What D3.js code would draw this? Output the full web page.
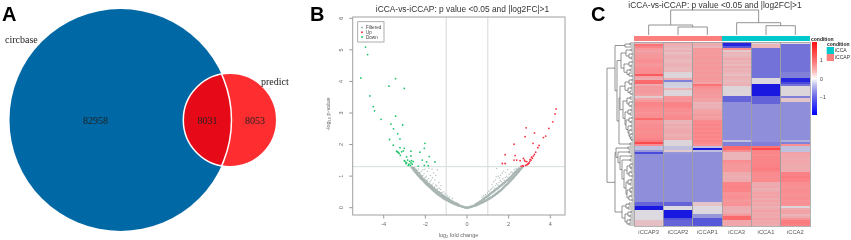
<!DOCTYPE html>
<html>
<head>
<meta charset="utf-8">
<style>
  html, body { margin: 0; padding: 0; background: #fff; }
  svg { display: block; filter: blur(0.35px); }
</style>
<script src="https://cdn.jsdelivr.net/npm/d3@7"></script>
</head>
<body>
<script>
// panel A
const vennLabels = ["circbase", "predict"];
const vennCounts = [82958, 8031, 8053];

// panel B as [log2FC, -log10 p]
const chartTitle = "iCCA-vs-iCCAP: p value <0.05 and |log2FC|>1";
const volcanoLegend = ["Filtered", "Up", "Down"];
const volcanoX = [-4, -2, 0, 2, 4];
const volcanoY = [0, 1, 2, 3, 4, 5, 6];
const downPoints = [[-4.87,5.09],[-4.77,4.85],[-5.1,4.11],[-3.43,4.09],[-3.75,3.85],[-3.01,3.78],[-4.66,3.54],[-4.5,3.2],[-4.44,3.07],[-3.43,2.9],[-4.13,2.8],
  [-3.65,2.65],[-3.09,2.62],[-3.53,2.5],[-3.33,2.34],[-3.72,2.16],[-3.22,2.18],[-3.54,1.98],[-2.02,2.04],[-2.05,1.88],[-2.26,1.76],[-3.22,1.9],[-3.01,1.88],
  [-3.38,1.79],[-3.3,1.75],[-3.14,1.77],[-3.06,1.8],[-3.2,1.66],[-2.69,1.79],[-2.9,1.61],[-2.69,1.64],[-1.81,1.62],[-2.15,1.51],[-3.01,1.49],[-2.85,1.51],
  [-2.66,1.49],[-2.58,1.46],[-2.69,1.42],[-2.9,1.42],[-2.93,1.4],[-2.82,1.34],[-2.34,1.32],[-1.94,1.45],[-1.86,1.33],[-1.54,1.45],[-2.05,1.34],[-2.63,1.38],
  [-2.75,1.47],[-2.79,1.38],[-3.35,1.77],[-3.26,1.72],[-2.96,1.46],[-2.72,1.34]];
const upPoints = [[4.28,3.13],[4.23,2.97],[4.12,2.72],[3.93,2.51],[3.78,2.27],[3.67,2.22],[2.84,2.53],[3.24,2.37],[2.79,2.25],[3.17,2.04],[2.26,2.01],[3.46,1.97],
  [3.4,1.9],[3.3,1.76],[3.24,1.69],[3.19,1.64],[3.14,1.57],[3.08,1.51],[2.98,1.42],[2.92,1.38],[2.82,1.34],[2.71,1.32],[2.6,1.31],[1.83,1.68],[2.31,1.65],
  [2.26,1.51],[2.39,1.51],[2.71,1.56],[2.76,1.51],[2.79,1.47],[2.55,1.49],[1.7,1.4],[1.83,1.4],[2.87,1.46],[3.03,1.53],[3.1,1.6],[3.02,1.47],[2.95,1.4],[2.88,1.36],[2.67,1.33]];
// dense V of filtered genes
const filteredBand = [[0,0],[-.05,.005],[.05,.005],
  [-.1,.01],[-.15,.02],[-.2,.03],[-.25,.035],[-.3,.05],[-.35,.06],[-.4,.07],[-.45,.08],[-.5,.1],[-.55,.11],[-.6,.12],[-.65,.14],[-.7,.15],[-.75,.17],[-.8,.18],[-.85,.2],[-.9,.22],[-.95,.24],
  [-1,.25],[-1.05,.27],[-1.1,.29],[-1.15,.31],[-1.2,.34],[-1.25,.36],[-1.3,.38],[-1.35,.41],[-1.4,.43],[-1.45,.46],[-1.5,.48],[-1.55,.51],[-1.6,.54],[-1.65,.57],[-1.7,.6],[-1.75,.63],[-1.8,.66],
  [-1.85,.69],[-1.9,.72],[-1.95,.75],[-2,.78],[-2.05,.82],[-2.1,.85],[-2.15,.89],[-2.2,.92],[-2.25,.96],[-2.3,1],[-2.35,1.03],[-2.4,1.07],[-2.45,1.11],[-2.5,1.15],[-2.55,1.19],[-2.6,1.23],[-2.65,1.27],
  [-.42,.1],[-.5,.13],[-.58,.15],[-.66,.18],[-.72,.2],[-.8,.23],[-.86,.26],[-.92,.29],[-.98,.31],[-1.04,.33],[-1.1,.36],[-1.16,.39],[-1.22,.42],[-1.28,.46],[-1.34,.49],[-1.4,.5],[-1.46,.55],[-1.52,.57],
  [-1.58,.61],[-1.64,.63],[-1.7,.68],[-1.76,.7],[-1.82,.74],[-1.88,.77],[-1.94,.82],[-2,.85],[-2.06,.89],[-2.12,.92],[-2.18,.98],[-2.24,1.02],[-2.3,1.08],[-2.36,1.11],[-2.42,1.16],[-2.48,1.21],[-2.55,1.26],
  [.1,.01],[.15,.02],[.2,.03],[.25,.04],[.3,.05],[.35,.06],[.4,.07],[.45,.08],[.5,.1],[.55,.11],[.6,.13],[.65,.14],[.7,.16],[.75,.17],[.8,.19],[.85,.21],[.9,.22],[.95,.24],
  [1,.26],[1.05,.28],[1.1,.3],[1.15,.32],[1.2,.34],[1.25,.37],[1.3,.39],[1.35,.41],[1.4,.44],[1.45,.46],[1.5,.49],[1.55,.52],[1.6,.54],[1.65,.57],[1.7,.6],[1.75,.63],[1.8,.67],
  [1.85,.7],[1.9,.73],[1.95,.76],[2,.79],[2.05,.83],[2.1,.86],[2.15,.9],[2.2,.93],[2.25,.97],[2.3,1.01],[2.35,1.04],[2.4,1.08],[2.45,1.12],[2.5,1.16],[2.55,1.2],[2.6,1.24],[2.65,1.28],
  [.42,.11],[.5,.14],[.58,.17],[.64,.2],[.7,.22],[.76,.26],[.82,.28],[.88,.32],[.94,.35],[1,.37],[1.06,.4],[1.12,.44],[1.18,.47],[1.24,.5],[1.3,.53],[1.36,.56],[1.42,.6],[1.48,.62],
  [1.54,.66],[1.6,.69],[1.66,.72],[1.72,.76],[1.78,.78],[1.84,.82],[1.9,.85],[1.96,.88],[2.02,.92],[2.08,.96],[2.14,1],[2.2,1.04],[2.26,1.08],[2.32,1.12],[2.38,1.16],[2.44,1.2],[2.5,1.24]];
// loose filtered genes above the band
const filteredScatter = [[-.7,.29],[-.85,.34],[-.95,.38],[-1.05,.44],[-1.12,.5],[-1.2,.48],[-1.27,.58],[-1.33,.62],[-1.4,.6],[-1.45,.68],[-1.5,.72],[-1.56,.66],[-1.62,.78],[-1.68,.74],[-1.72,.88],[-1.78,.82],[-1.84,.93],[-1.9,.88],
  [-1.95,1],[-2,.96],[-2.06,1.08],[-2.12,1.02],[-2.2,1.15],[-2.26,1.1],[-2.34,1.22],[-1.76,1.02],[-1.66,.95],[-1.55,.88],[-1.9,1.15],[-1.82,1.25],[-2.02,1.22],[-1.6,1.1],[-1.5,1.02],[-1.35,.8],[-1.25,.7],[-1.42,1.2],[-1.68,1.22],[-2.12,1.2],
  [.72,.33],[.8,.38],[.9,.42],[.98,.47],[1.05,.52],[1.12,.56],[1.18,.6],[1.24,.66],[1.3,.62],[1.36,.7],[1.42,.76],[1.48,.72],[1.54,.8],[1.6,.86],[1.66,.82],[1.72,.92],[1.78,.88],[1.84,.96],
  [1.9,1],[1.96,.96],[2.02,1.05],[2.08,1.1],[2.14,1.14],[2.2,1.12],[2.28,1.2],[2.36,1.24],[1.36,.88],[1.4,.98],[1.5,1],[1.56,.94],[1.62,1.03],[1.7,1.1],[1.42,1.24],[1.76,1.16],[1.85,1.12],[1.95,1.2],[1.28,.82],[1.2,.74]];

// panel C
const sampleNames = ["iCCAP3", "iCCAP2", "iCCAP1", "iCCA3", "iCCA1", "iCCA2"];
const sampleGroups = ["iCCAP", "iCCAP", "iCCAP", "iCCA", "iCCA", "iCCA"];
const conditionNames = ["iCCA", "iCCAP"];
const barTicks = [1, 0, -1];
const iCCAP3 = [.5,1.2,1,.8,.7,.75,.8,.8,.85,.9, .85,.8,.85,.9,.9,.9,1.4,.7,.6,1.3, 1.3,.6,.8,.75,.8,.75,.7,.3,.7,.8,
  1,1,.95,.9,.9,.85,.9,.9,1.3,.85, .85,.9,.9,.95,.9,.9,.95,.95,1,1.1, 1.5,.9,-.3,-.3,-.8,-1.4,-.9,-.9,-.9,-.9,
  -.9,-.9,-.9,-.9,-.9,-.9,-.9,-.9,-.9,-.9, -.9,-.9,-.9,-.9,-.9,-.9,-.9,-.9,-.9,-.9, -1.2,-1.2,-1.8,-1.8,.05,.05,.05,.05,.05,.4, .4,.4];
const iCCAP2 = [.6,.55,.5,.45,.55,.4,.5,.55,.5,.45, .5,.55,.5,.45,.5,.2,.15,.2,.6,-1, -.15,-.15,-.1,.5,.2,.15,.2,.8,.85,.8,
  1,1.05,1,.9,.9,.85,.9,.95,.95,.5, .5,.6,.55,.6,.65,.6,.55,.6,.65,.2, .15,.2,-.3,-.3,.3,-.8,-.9,-.9,-.9,-.9,
  -.9,-.9,-.9,-.9,-.9,-.9,-.9,-.9,-.9,-.9, -.9,-.9,-.9,-.9,-.9,-.9,-.9,-.9,-.9,-.9, -1.2,-1.2,.05,.05,-1.8,-1.8,-1.8,-1.8,-1.3,-1.2, -1.2,-1.2];
const iCCAP1 = [.5,.6,.5,.8,.75,.8,.75,.8,.8,.75, .8,.75,.8,.8,.75,.8,.75,.8,.8,.75, .7,1.2,.9,.85,.8,.8,.75,.8,.7,.7,
  .5,.55,.5,.6,.7,.7,.75,.7,.75,.95, .95,1,.95,1,.95,1,.95,1,.95,1, .95,.85,-.3,-1.8,-.3,-.9,-.9,-.9,-.9,-.9,
  -.9,-.9,-.9,-.9,-.9,-.9,-.9,-.9,-.9,-.9, -.9,-.9,-.9,-.9,-.9,-.9,-.9,-.9,-.9,-.9, .35,.35,.1,.1,.1,.1,-.8,-.8,-1.3,-1.3, -1.3,-1.3];
const iCCA3 = [-1.7,-1.7,-1.3,.9,.3,.5,.45,.5,.6,.5, .55,.45,.6,.5,.55,.5,.4,.55,.5,.45, .5,.55,.2,.15,.2,.15,.2,-1.2,-1.2,-1.2,
  -.9,-.9,-.9,-.9,-.9,-.9,-.9,-.9,-.9,-.9, -.9,-.9,-.9,-.9,-.9,-.9,-.9,-.9,-.9,-.3, -1,-1,1.3,1.3,.9,.5,.5,.5,.5,.9,
  .85,.8,.8,.8,.8,.6,.6,.55,.6,.6, 1,1,1.05,1,1,.85,.85,.9,.85,.8, .85,.85,.6,.6,.55,.6,.8,1.3,1.3,.65, .65,.65];
const iCCA1 = [.15,.5,.5,-1.1,-1.1,-1.1,-1.1,-1.1,-1.1,-1.1, -1.1,-1.1,-1.1,-1.1,-1.1,-1.1,-1.1,-1.1,.1,.1, .1,-1.8,-1.8,-1.8,-1.8,-1.8,-1.8,-1.2,-1.2,-1.2,
  -1.2,-.9,-.9,-.9,-.9,-.9,-.9,-.9,-.9,-.9, -.9,-.9,-.9,-.9,-.9,-.9,-.9,-.9,-.9,-.9, -1,-1,1.2,1.5,1,1,.95,1,1,1,
  1,1.05,1.05,1.1,1.05,.95,.95,.9,.95,.95, .6,.6,.65,.55,.6,.7,.65,.7,.6,.7, .6,.65,.55,.6,.7,.6,.65,.6,.7,.6, .65,.6];
const iCCA2 = [.05,-1.1,-1.1,-1.1,-1.1,-1.1,-1.1,-1.1,-1.1,-1.1, -1.1,-1.1,-1.1,-1.1,-1.1,-1,-1,-1,-1.7,-1.7, -1.4,-1.1,.15,.15,.15,.15,.15,-1,.35,.35,
  -.9,-.9,-.9,-.9,-.9,-.9,-.9,-.9,-.9,-.9, -.9,-.9,-.9,-.9,-.9,-.9,-.9,-.9,-.9,-.5, -1,.9,-.3,-.3,-.3,.7,.65,.65,.6,.65,
  .65,.6,.6,.6,.6,1.05,1.05,1.1,1.05,1.05, .9,.9,.85,.9,.9,.9,.85,.9,.9,.85, .9,.85,.2,.6,.7,.7,.5,.6,.85,1.1, 1.1,1.05];
const heatValues = [iCCAP3, iCCAP2, iCCAP1, iCCA3, iCCA1, iCCA2];

// dendrograms as [height, left, right], leaves are row or column numbers
const rowsTop = [9,[4,0,1],2];
const rowsMidA = [13,[8,[3,3,4],[5,[2,5,6],[3,7,8]]],[10,[5,[2,9,10],[3,11,12]],[7,[4,13,14],[5,15,[2,16,17]]]]];
const rowsMidB = [14,[9,[5,[2,18,19],[3,20,21]],[6,[3,22,23],[4,24,[2,25,26]]]],
  [11,[7,[4,27,28],[5,[2,29,30],[3,31,32]]],[9,[6,[3,33,34],[4,35,36]],[8,[5,[2,37,38],[3,39,40]],[6,[3,41,42],[5,[3,43,44],[4,[2,45,46],[3,47,[2,48,49]]]]]]]]];
const rowsUpper = [19,rowsTop,[17,rowsMidA,[15,rowsMidB,[4,50,51]]]];
const rowsBlueCore = [10,[7,[4,[2,60,61],[3,62,63]],[5,[3,64,65],[2,66,67]]],[8,[6,[3,68,69],[4,70,71]],[7,[4,[2,72,73],[3,74,75]],[5,[3,76,77],[2,78,79]]]]];
const rowsBlue = [18,[6,52,53],[16,[5,54,55],[14,[3,56,57],[12,[4,58,59],rowsBlueCore]]]];
const rowsBottom = [12,[8,[5,80,81],[6,82,83]],[9,[6,[3,84,85],[4,86,87]],[7,[4,88,89],[5,90,91]]]];
const rowTree = [27,rowsUpper,[19,rowsBlue,rowsBottom]];
const colTree = [25,[10,0,[8,1,2]],[12.3,3,[9.3,4,5]]];

const sans = "'Liberation Sans', Arial, sans-serif";
const serif = "'Liberation Serif', 'Times New Roman', serif";
const tickGray = "#666";

const svg = d3.select("body").append("svg").attr("width", 851).attr("height", 240);

function addText(x, y, str, size, opts) {
  opts = opts || {};
  return svg.append("text")
    .attr("x", x).attr("y", y)
    .attr("font-family", opts.family || sans)
    .attr("font-size", size)
    .attr("font-weight", opts.weight || "normal")
    .attr("text-anchor", opts.anchor || "start")
    .attr("fill", opts.fill || "#222")
    .text(str);
}

// panel letters
addText(2, 21, "A", 20, {weight: "bold", fill: "#000"});
addText(310, 21, "B", 20, {weight: "bold", fill: "#000"});
addText(591, 21, "C", 20, {weight: "bold", fill: "#000"});

//---- A: venn
const bigCircle = {x: 120.5, y: 120, r: 111};
const smallCircle = {x: 230, y: 120, r: 46.7};

svg.append("circle").attr("cx", bigCircle.x).attr("cy", bigCircle.y).attr("r", bigCircle.r).attr("fill", "#0068a5");
svg.append("circle").attr("cx", smallCircle.x).attr("cy", smallCircle.y).attr("r", smallCircle.r).attr("fill", "#fe2d30");
svg.append("clipPath").attr("id", "bigClip").append("circle")
  .attr("cx", bigCircle.x).attr("cy", bigCircle.y).attr("r", bigCircle.r);
svg.append("circle").attr("cx", smallCircle.x).attr("cy", smallCircle.y).attr("r", smallCircle.r)
  .attr("fill", "#e60a19").attr("clip-path", "url(#bigClip)");
svg.append("circle").attr("cx", smallCircle.x).attr("cy", smallCircle.y).attr("r", smallCircle.r)
  .attr("fill", "none").attr("stroke", "#fff").attr("stroke-width", 1.5);
svg.append("clipPath").attr("id", "smallClip").append("circle")
  .attr("cx", smallCircle.x).attr("cy", smallCircle.y).attr("r", smallCircle.r);
svg.append("circle").attr("cx", bigCircle.x).attr("cy", bigCircle.y).attr("r", bigCircle.r)
  .attr("fill", "none").attr("stroke", "#fff").attr("stroke-width", 1.5).attr("clip-path", "url(#smallClip)");

addText(5, 43, vennLabels[0], 10, {family: serif});
addText(261, 85, vennLabels[1], 10, {family: serif});
addText(95.5, 124, vennCounts[0], 10, {family: serif, anchor: "middle"});
addText(207.5, 124, vennCounts[1], 10, {family: serif, anchor: "middle"});
addText(255, 124, vennCounts[2], 10, {family: serif, anchor: "middle"});

//---- B: volcano
const vx = d3.scaleLinear().domain([-4, 4]).range([383.7, 550.3]);
const vy = d3.scaleLinear().domain([0, 6]).range([207.7, 18.3]);
const plotBox = {left: 352.7, right: 565, top: 17, bottom: 215};

function volcanoLine(x1, y1, x2, y2, color) {
  svg.append("line").attr("x1", x1).attr("y1", y1).attr("x2", x2).attr("y2", y2)
    .attr("stroke", color).attr("stroke-width", 1);
}
volcanoLine(vx(-1), plotBox.top, vx(-1), plotBox.bottom, "#d6d8d8");
volcanoLine(vx(1), plotBox.top, vx(1), plotBox.bottom, "#d6d8d8");
volcanoLine(plotBox.left, vy(1.3), plotBox.right, vy(1.3), "#d4dfdc");

svg.append("g").selectAll("circle").data(filteredScatter).join("circle")
  .attr("cx", d => vx(d[0])).attr("cy", d => vy(d[1])).attr("r", 0.7).attr("fill", "#b4c0bd");
svg.append("g").selectAll("circle").data(filteredBand).join("circle")
  .attr("cx", d => vx(d[0])).attr("cy", d => vy(d[1])).attr("r", 1.25).attr("fill", "#a8b5b2");
svg.append("g").selectAll("circle").data(downPoints).join("circle")
  .attr("cx", d => vx(d[0])).attr("cy", d => vy(d[1])).attr("r", 0.9).attr("fill", "#1cc36a");
svg.append("g").selectAll("circle").data(upPoints).join("circle")
  .attr("cx", d => vx(d[0])).attr("cy", d => vy(d[1])).attr("r", 0.9).attr("fill", "#f5303f");

svg.append("rect").attr("x", plotBox.left).attr("y", plotBox.top)
  .attr("width", plotBox.right - plotBox.left).attr("height", plotBox.bottom - plotBox.top)
  .attr("fill", "none").attr("stroke", "#a0a0a0").attr("stroke-width", 1);

volcanoX.forEach(t => {
  volcanoLine(vx(t), plotBox.bottom, vx(t), plotBox.bottom + 3.5, "#999");
  addText(vx(t), 226, t < 0 ? "-" + Math.abs(t) : t, 5.5, {anchor: "middle", fill: tickGray});
});
volcanoY.forEach(t => {
  volcanoLine(plotBox.left - 3.5, vy(t), plotBox.left, vy(t), "#999");
  addText(343, vy(t), t, 5.5, {anchor: "middle", fill: tickGray})
    .attr("transform", "rotate(-90 343 " + vy(t) + ")");
});
const xLab = addText(458.5, 237, "log", 5.5, {anchor: "middle", fill: tickGray});
xLab.append("tspan").attr("font-size", 4).attr("dy", 1).text("2");
xLab.append("tspan").attr("dy", -1).text(" fold change");
const yLab = addText(0, 0, "-log", 5.5, {anchor: "middle", fill: tickGray})
  .attr("transform", "translate(330,114) rotate(-90)");
yLab.append("tspan").attr("font-size", 4).attr("dy", 1).text("10");
yLab.append("tspan").attr("dy", -1).text(" p-value");

const legendColors = ["#a3b0ad", "#f5303f", "#1cc36a"];
const legendY = d3.scalePoint().domain(volcanoLegend).range([27.5, 37]);
svg.append("rect").attr("x", 357.7).attr("y", 21.7).attr("width", 26.3).attr("height", 20.3)
  .attr("fill", "#fff").attr("stroke", "#999").attr("stroke-width", 0.8);
volcanoLegend.forEach((name, i) => {
  svg.append("circle").attr("cx", 362).attr("cy", legendY(name)).attr("r", 1).attr("fill", legendColors[i]);
  addText(366, legendY(name) + 1.6, name, 4.6, {fill: "#444"});
});
addText(462.5, 12, chartTitle, 8.4, {anchor: "middle", fill: "#333"});

//---- C: heatmap
const heatLeft = 634, heatRight = 810, heatTop = 42, heatBottom = 226;
const colX = d3.scaleBand().domain(d3.range(sampleNames.length)).range([heatLeft, heatRight]);
const rowY = d3.scaleBand().domain(d3.range(iCCAP3.length)).range([heatTop, heatBottom]);
const heatColor = d3.scaleLinear()
  .domain([-1.8, -1.2, -.9, -.3, 0, .2, .5, .9, 1.3, 1.7])
  .range(["#1818e0", "#6464d8", "#8e8eda", "#c0c0de", "#dcdce2", "#dcd4d8", "#eab4b8", "#f98e92", "#fc6a6e", "#ff2a2a"]);
const groupColor = d3.scaleOrdinal().domain(conditionNames).range(["#00c8cd", "#fa8080"]);

const heat = svg.append("g").attr("shape-rendering", "crispEdges");
heatValues.forEach((col, c) => {
  heat.append("g").selectAll("rect").data(col).join("rect")
    .attr("x", colX(c)).attr("y", (d, r) => rowY(r))
    .attr("width", colX.bandwidth()).attr("height", rowY.bandwidth())
    .attr("fill", d => heatColor(d));
  heat.append("rect").attr("x", colX(c)).attr("y", 36).attr("width", colX.bandwidth()).attr("height", 5)
    .attr("fill", groupColor(sampleGroups[c]));
  heat.append("rect").attr("x", colX(c)).attr("y", heatTop).attr("width", colX.bandwidth()).attr("height", heatBottom - heatTop)
    .attr("fill", "none").attr("stroke", "#a0a0a0").attr("stroke-width", 0.8);
  addText(colX(c) + colX.bandwidth() / 2, 233.5, sampleNames[c], 5.8, {anchor: "middle", fill: "#555"});
});

// walk a tree, collect the elbow segments, give back the node position
function walkTree(node, place, segs) {
  if (!Array.isArray(node)) return {p: place(node), h: 0};
  const a = walkTree(node[1], place, segs);
  const b = walkTree(node[2], place, segs);
  segs.push({h: node[0], a: a, b: b});
  return {p: (a.p + b.p) / 2, h: node[0]};
}

const rowH = d3.scaleLinear().domain([0, 27]).range([heatLeft, 607]);
const rowSegs = [];
walkTree(rowTree, r => rowY(r) + rowY.bandwidth() / 2, rowSegs);
svg.append("g").selectAll("path").data(rowSegs).join("path")
  .attr("d", d => "M" + rowH(d.a.h) + "," + d.a.p + "H" + rowH(d.h) + "V" + d.b.p + "H" + rowH(d.b.h))
  .attr("fill", "none").attr("stroke", "#666").attr("stroke-width", 0.7);

const colH = d3.scaleLinear().domain([0, 25]).range([35, 10]);
const colSegs = [];
walkTree(colTree, c => colX(c) + colX.bandwidth() / 2, colSegs);
svg.append("g").selectAll("path").data(colSegs).join("path")
  .attr("d", d => "M" + d.a.p + "," + colH(d.a.h) + "V" + colH(d.h) + "H" + d.b.p + "V" + colH(d.b.h))
  .attr("fill", "none").attr("stroke", "#777").attr("stroke-width", 0.8);

addText(715, 8, chartTitle, 8.4, {anchor: "middle", fill: "#333"});

// colour bar, white at zero like the key in the picture
const barY = d3.scaleLinear().domain([1.98, -1.98]).range([42.3, 115]);
const barColor = d3.scaleLinear().domain([-1.98, -1, -.4, 0, .4, 1, 1.98])
  .range(["#0000ff", "#6a6ae8", "#b8b8f0", "#ffffff", "#fbb8b8", "#fb7070", "#ff1010"]);
svg.append("g").attr("shape-rendering", "crispEdges").selectAll("rect")
  .data(d3.range(-1.98, 1.98, 0.055)).join("rect")
  .attr("x", 812.3).attr("y", d => barY(d) - 1).attr("width", 5).attr("height", 1.2)
  .attr("fill", d => barColor(d));
barTicks.forEach(t => {
  addText(820, barY(t) + 2, t < 0 ? "\u2212" + Math.abs(t) : t, 5, {fill: "#333"});
});
addText(811, 40.5, "condition", 5, {weight: "bold", fill: "#222"});
addText(827, 46, "condition", 5, {weight: "bold", fill: "#222"});
conditionNames.forEach((name, i) => {
  const y = 47 + i * 7;
  svg.append("rect").attr("x", 826.7).attr("y", y).attr("width", 7.3).attr("height", 7).attr("fill", groupColor(name));
  addText(835, y + 5, name, 5, {fill: "#333"});
});
</script>
</body>
</html>
